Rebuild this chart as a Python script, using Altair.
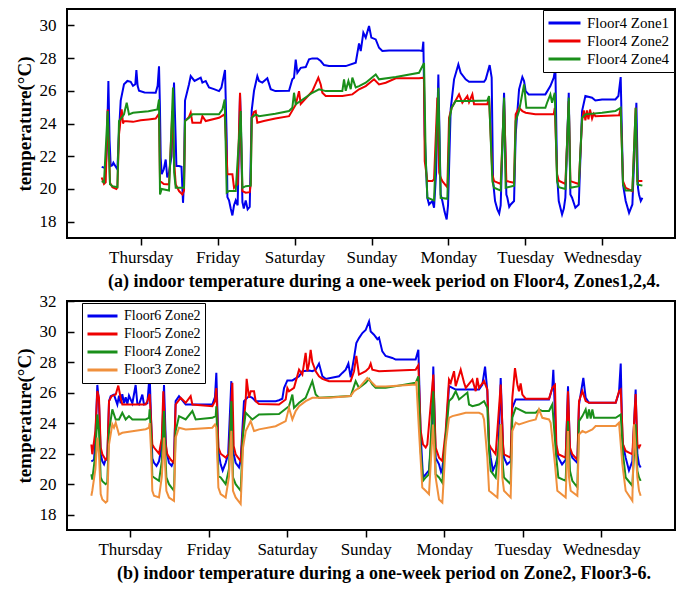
import json
import altair as alt
import pandas as pd

days = ["Thursday", "Friday", "Saturday", "Sunday", "Monday", "Tuesday", "Wednesday"]
day_ticks = [0, 1, 2, 3, 4, 5, 6]

title_a = "(a) indoor temperature during a one-week period on Floor4, Zones1,2,4."
title_b = "(b) indoor temperature during a one-week period on Zone2, Floor3-6."

a_names = ["Floor4 Zone1", "Floor4 Zone2", "Floor4 Zone4"]
a_colors = ["#0000ee", "#ee0000", "#1a8f1a"]
b_names = ["Floor6 Zone2", "Floor5 Zone2", "Floor4 Zone2", "Floor3 Zone2"]
b_colors = ["#0000ee", "#ee0000", "#1a8f1a", "#f0903c"]

# ---- panel (a): (day, temperature) readings ----
a_zone1 = [(-0.507,21.35),(-0.477,21.3),(-0.455,21.25),(-0.44,22.5),(-0.42,26.6),(-0.405,23.0),(-0.39,21.4),(-0.368,21.45),(-0.355,21.6),(-0.33,21.4),(-0.303,21.2),(-0.282,23.5),(-0.26,25.4),(-0.217,26.4),(-0.173,26.6),(-0.13,26.55),(-0.1,26.3),(-0.07,26.4),(-0.056,27.27),(-0.04,26.3),(-0.022,26.0),(0.05,25.9),(0.195,25.88),(0.22,26.3),(0.238,27.5),(0.25,25.0),(0.26,21.9),(0.273,20.9),(0.3,21.2),(0.325,21.8),(0.345,20.7),(0.368,21.0),(0.4,22.0),(0.433,26.5),(0.455,23.0),(0.464,21.4),(0.498,21.4),(0.53,21.35),(0.55,19.15),(0.563,20.5),(0.576,25.4),(0.628,26.4),(0.65,26.9),(0.7,26.6),(0.78,26.8),(0.802,26.5),(0.845,26.6),(0.888,26.2),(0.953,26.1),(1.018,25.98),(1.049,26.19),(1.096,27.27),(1.118,23.0),(1.127,19.5),(1.148,19.3),(1.17,18.8),(1.192,18.38),(1.213,19.0),(1.235,19.3),(1.26,19.0),(1.291,25.8),(1.3,24.5),(1.322,19.2),(1.34,18.8),(1.365,19.3),(1.39,18.75),(1.417,18.9),(1.443,24.8),(1.473,26.0),(1.516,26.9),(1.538,26.6),(1.581,26.5),(1.646,26.76),(1.69,26.1),(1.75,25.98),(1.928,26.0),(1.971,26.7),(1.993,26.8),(2.015,27.9),(2.036,27.1),(2.08,27.4),(2.145,27.45),(2.188,27.92),(2.231,27.98),(2.296,27.98),(2.34,27.82),(2.383,27.57),(2.448,27.51),(2.665,27.51),(2.795,27.72),(2.838,28.9),(2.86,28.43),(2.894,29.55),(2.925,29.25),(2.968,29.96),(2.998,29.25),(3.055,29.14),(3.098,28.63),(3.141,28.43),(3.228,28.47),(3.618,28.47),(3.661,28.43),(3.674,29.0),(3.692,23.3),(3.726,19.46),(3.748,19.05),(3.791,19.26),(3.813,18.85),(3.84,21.0),(3.869,27.0),(3.899,19.66),(3.921,19.26),(3.95,18.6),(3.977,18.13),(3.995,19.0),(4.029,24.86),(4.073,26.7),(4.129,27.61),(4.159,27.1),(4.224,26.7),(4.268,26.55),(4.463,26.55),(4.485,26.7),(4.536,27.57),(4.562,26.8),(4.58,20.48),(4.606,19.26),(4.636,18.75),(4.66,18.5),(4.679,19.0),(4.723,25.88),(4.753,19.66),(4.766,19.46),(4.79,18.9),(4.81,19.05),(4.853,19.26),(4.874,23.33),(4.918,26.09),(4.961,26.84),(4.983,26.6),(5.004,25.98),(5.043,25.78),(5.26,25.78),(5.325,26.29),(5.369,26.8),(5.39,27.41),(5.412,20.89),(5.434,19.26),(5.477,18.44),(5.5,18.8),(5.52,19.46),(5.564,25.88),(5.585,19.66),(5.607,19.46),(5.65,18.85),(5.694,19.05),(5.737,24.76),(5.78,25.68),(5.867,25.58),(5.91,25.41),(5.997,25.47),(6.17,25.47),(6.209,25.68),(6.239,26.84),(6.269,20.28),(6.304,19.26),(6.348,18.54),(6.391,19.05),(6.443,25.27),(6.464,20.07),(6.477,19.66),(6.5,19.26),(6.521,19.46)]

a_zone2 = [(-0.507,20.7),(-0.477,20.3),(-0.455,20.4),(-0.429,24.86),(-0.399,20.38),(-0.368,20.1),(-0.316,20.0),(-0.303,20.1),(-0.282,23.33),(-0.247,24.86),(-0.23,24.0),(-0.217,24.15),(-0.1,24.1),(0.0,24.2),(0.1,24.25),(0.195,24.3),(0.217,24.45),(0.238,24.6),(0.251,20.48),(0.3,20.3),(0.368,20.28),(0.412,24.76),(0.43,22.0),(0.455,20.28),(0.498,19.87),(0.542,19.66),(0.563,19.9),(0.576,24.15),(0.628,24.4),(0.65,24.66),(0.672,24.05),(0.78,24.05),(0.802,24.45),(0.845,24.15),(1.018,24.35),(1.092,24.56),(1.118,22.0),(1.127,20.89),(1.192,20.89),(1.213,20.07),(1.26,20.3),(1.291,25.88),(1.31,22.0),(1.322,19.87),(1.365,19.77),(1.417,19.8),(1.43,20.3),(1.443,24.35),(1.473,24.7),(1.495,24.76),(1.516,24.05),(1.6,24.15),(1.75,24.3),(1.928,24.45),(2.015,25.15),(2.058,25.98),(2.08,25.2),(2.231,25.98),(2.309,26.8),(2.34,26.39),(2.361,25.88),(2.405,25.68),(2.621,25.68),(2.751,25.78),(2.838,26.09),(2.925,26.29),(3.033,26.7),(3.098,26.39),(3.185,26.49),(3.315,26.76),(3.618,26.76),(3.683,26.8),(3.692,21.7),(3.726,20.48),(3.791,20.48),(3.813,20.6),(3.856,25.58),(3.88,21.0),(3.899,20.68),(3.921,20.48),(3.986,20.1),(4.008,24.35),(4.042,24.96),(4.138,25.78),(4.181,25.27),(4.246,25.68),(4.268,25.3),(4.311,25.78),(4.333,25.17),(4.506,25.17),(4.528,25.58),(4.571,20.89),(4.593,20.48),(4.679,20.3),(4.723,25.37),(4.753,20.48),(4.853,20.38),(4.874,24.56),(4.918,24.96),(4.961,24.76),(5.004,24.66),(5.13,24.56),(5.369,24.56),(5.382,24.96),(5.412,20.89),(5.434,20.5),(5.52,20.3),(5.564,25.37),(5.585,20.48),(5.694,20.3),(5.737,24.15),(5.76,24.8),(5.78,24.2),(5.8,24.8),(5.82,24.25),(5.84,24.85),(5.867,24.3),(5.889,24.6),(5.91,24.45),(6.218,24.5),(6.239,24.9),(6.269,20.48),(6.304,20.07),(6.391,19.87),(6.434,24.96),(6.456,20.48),(6.521,20.48)]

a_zone4 = [(-0.507,20.48),(-0.477,20.4),(-0.429,24.76),(-0.399,20.28),(-0.368,20.17),(-0.303,20.1),(-0.282,24.15),(-0.217,24.56),(-0.182,25.27),(-0.152,24.56),(-0.1,24.66),(0.1,24.75),(0.217,24.86),(0.238,25.47),(0.251,19.66),(0.273,20.0),(0.368,19.9),(0.42,26.2),(0.435,21.0),(0.455,20.07),(0.563,20.07),(0.576,24.15),(0.628,24.35),(0.672,24.56),(1.018,24.56),(1.062,24.86),(1.092,25.47),(1.118,19.77),(1.148,19.87),(1.235,19.87),(1.3,24.76),(1.322,20.07),(1.365,20.17),(1.43,20.2),(1.443,24.35),(1.495,24.56),(1.538,24.45),(1.75,24.6),(1.928,24.76),(1.971,24.96),(1.993,25.88),(2.015,25.17),(2.231,25.88),(2.318,26.09),(2.405,25.98),(2.621,25.98),(2.643,26.7),(2.665,26.0),(2.7,26.6),(2.73,26.1),(2.751,26.8),(2.795,26.2),(2.838,26.29),(2.925,26.49),(3.055,27.0),(3.098,26.7),(3.315,26.84),(3.618,27.1),(3.683,27.7),(3.704,22.0),(3.726,19.46),(3.813,19.3),(3.869,26.19),(3.899,19.46),(3.986,19.4),(4.016,24.35),(4.042,24.96),(4.094,25.37),(4.268,25.37),(4.506,25.41),(4.528,25.68),(4.571,20.48),(4.593,20.07),(4.679,19.9),(4.723,25.58),(4.744,20.07),(4.853,20.2),(4.874,24.15),(4.918,24.76),(4.983,26.39),(5.013,24.96),(5.26,24.96),(5.282,25.27),(5.325,25.78),(5.347,25.27),(5.382,25.88),(5.412,20.48),(5.434,20.1),(5.52,20.0),(5.564,25.58),(5.585,20.07),(5.694,20.17),(5.737,24.35),(5.78,24.56),(5.997,24.66),(6.17,24.76),(6.239,24.96),(6.269,20.28),(6.304,19.9),(6.391,19.9),(6.434,24.96),(6.456,20.28),(6.521,20.2)]

# ---- panel (b): (day, temperature) readings ----
b_f6 = [(-0.492,21.5),(-0.458,21.6),(-0.44,23.0),(-0.416,26.5),(-0.395,25.4),(-0.373,21.96),(-0.352,21.5),(-0.33,21.3),(-0.31,21.6),(-0.289,21.6),(-0.267,25.44),(-0.246,25.77),(-0.204,25.87),(-0.161,25.22),(-0.14,25.8),(-0.119,25.3),(-0.098,25.9),(-0.076,25.3),(-0.055,25.7),(-0.034,25.25),(-0.013,25.8),(0.03,25.3),(0.072,26.5),(0.093,25.3),(0.115,25.22),(0.157,25.87),(0.178,25.22),(0.221,25.3),(0.25,27.2),(0.27,24.0),(0.284,21.7),(0.306,21.4),(0.337,21.2),(0.369,21.5),(0.405,22.5),(0.433,26.5),(0.454,23.0),(0.463,22.18),(0.496,21.4),(0.53,21.2),(0.56,21.6),(0.581,25.44),(0.624,25.77),(0.709,25.22),(1.048,25.22),(1.082,25.7),(1.099,27.3),(1.115,24.5),(1.125,22.18),(1.154,21.3),(1.18,20.9),(1.218,21.4),(1.25,22.0),(1.29,26.75),(1.311,22.18),(1.345,21.4),(1.388,21.1),(1.409,21.6),(1.451,25.44),(1.515,25.77),(1.557,25.66),(1.6,25.44),(1.854,25.44),(1.897,25.5),(1.939,25.6),(1.961,26.3),(2.003,26.8),(2.067,26.8),(2.152,27.07),(2.194,27.4),(2.279,27.45),(2.321,27.4),(2.364,27.5),(2.406,27.9),(2.449,27.07),(2.491,26.9),(2.661,27.07),(2.703,27.29),(2.746,27.5),(2.78,27.9),(2.809,27.0),(2.852,28.27),(2.881,29.25),(2.915,29.57),(2.958,29.9),(3.0,30.1),(3.043,30.66),(3.064,30.0),(3.106,29.79),(3.149,29.5),(3.17,29.6),(3.212,28.7),(3.254,28.4),(3.339,28.27),(3.382,28.16),(3.636,28.16),(3.671,28.8),(3.7,23.26),(3.73,20.44),(3.764,20.65),(3.806,20.9),(3.84,23.0),(3.861,27.7),(3.891,21.74),(3.934,21.3),(3.96,20.8),(3.976,21.0),(4.019,23.05),(4.061,26.42),(4.104,26.31),(4.146,26.2),(4.443,26.2),(4.486,26.53),(4.52,27.7),(4.549,26.09),(4.571,22.61),(4.592,21.74),(4.62,20.9),(4.655,21.3),(4.69,22.0),(4.719,26.96),(4.749,22.4),(4.761,21.74),(4.8,21.3),(4.846,21.5),(4.867,25.0),(4.91,25.55),(5.334,25.55),(5.376,26.3),(5.389,27.5),(5.427,22.4),(5.453,21.74),(5.5,21.3),(5.546,21.6),(5.576,26.42),(5.601,22.18),(5.631,21.74),(5.695,21.4),(5.716,25.22),(5.771,26.96),(5.801,25.66),(5.843,25.33),(6.183,25.33),(6.225,26.0),(6.247,27.9),(6.268,23.0),(6.276,22.61),(6.31,21.74),(6.352,20.9),(6.395,21.5),(6.437,26.2),(6.459,21.96),(6.48,21.3),(6.501,21.1)]

b_f5 = [(-0.492,22.6),(-0.48,21.96),(-0.44,23.5),(-0.416,26.1),(-0.395,25.66),(-0.373,22.4),(-0.352,21.96),(-0.31,21.6),(-0.289,21.74),(-0.267,25.44),(-0.233,25.77),(-0.182,25.87),(-0.149,26.46),(-0.119,25.66),(-0.098,25.22),(0.199,25.22),(0.221,25.44),(0.25,25.9),(0.27,24.0),(0.284,22.61),(0.306,22.4),(0.369,22.0),(0.405,23.0),(0.424,26.09),(0.454,22.61),(0.475,21.96),(0.52,21.6),(0.56,21.4),(0.581,25.22),(0.645,25.66),(0.709,25.33),(0.772,25.77),(0.794,25.22),(1.048,25.11),(1.082,25.44),(1.099,26.3),(1.125,22.4),(1.154,22.0),(1.218,21.74),(1.26,22.0),(1.303,26.64),(1.32,22.5),(1.345,21.96),(1.409,21.5),(1.439,23.5),(1.473,25.5),(1.485,26.9),(1.515,25.66),(1.536,26.09),(1.579,26.09),(1.6,25.44),(1.642,25.26),(1.897,25.22),(1.982,25.55),(2.003,26.3),(2.024,26.09),(2.088,26.31),(2.152,27.5),(2.194,27.18),(2.236,28.6),(2.258,27.4),(2.279,27.9),(2.3,28.8),(2.321,28.0),(2.364,27.4),(2.406,27.07),(2.449,26.9),(2.533,26.75),(2.809,26.75),(2.852,27.4),(2.881,28.4),(2.915,27.18),(2.958,27.29),(3.0,27.4),(3.043,27.62),(3.064,27.9),(3.085,27.5),(3.17,27.4),(3.636,27.5),(3.671,27.8),(3.7,23.5),(3.73,22.61),(3.764,22.4),(3.785,22.61),(3.861,27.18),(3.891,22.4),(3.934,21.74),(3.976,21.52),(4.019,23.5),(4.061,26.85),(4.083,26.64),(4.125,27.4),(4.146,26.42),(4.21,27.5),(4.253,26.64),(4.274,26.31),(4.359,26.85),(4.401,26.09),(4.42,26.96),(4.443,26.31),(4.507,26.75),(4.549,26.2),(4.571,22.61),(4.592,22.4),(4.655,21.96),(4.719,26.53),(4.749,22.61),(4.761,21.96),(4.846,21.74),(4.867,25.66),(4.901,27.6),(4.931,26.53),(4.952,26.09),(4.973,26.6),(4.995,25.87),(5.037,25.6),(5.334,25.6),(5.376,26.31),(5.41,26.5),(5.427,22.61),(5.453,21.96),(5.546,21.74),(5.576,26.09),(5.601,22.4),(5.631,21.96),(5.695,21.6),(5.716,25.44),(5.759,26.09),(5.801,25.44),(5.843,25.33),(6.183,25.33),(6.225,26.09),(6.247,26.2),(6.276,22.61),(6.31,22.18),(6.395,21.96),(6.437,25.9),(6.459,22.61),(6.48,22.4),(6.501,22.61)]

b_f4 = [(-0.492,20.65),(-0.48,20.3),(-0.44,22.0),(-0.416,24.57),(-0.395,23.48),(-0.373,20.44),(-0.352,20.2),(-0.31,20.0),(-0.289,20.1),(-0.267,23.48),(-0.225,24.9),(-0.182,24.24),(-0.14,24.24),(-0.098,24.68),(-0.055,24.24),(-0.013,24.46),(0.03,24.24),(0.199,24.24),(0.242,24.35),(0.25,24.9),(0.27,23.0),(0.284,20.54),(0.306,20.44),(0.369,20.22),(0.405,21.5),(0.433,24.8),(0.454,21.5),(0.463,20.44),(0.496,20.0),(0.56,19.57),(0.581,23.48),(0.624,24.46),(0.709,24.24),(0.794,24.79),(0.836,24.24),(1.048,24.35),(1.091,24.46),(1.099,25.1),(1.125,20.54),(1.154,20.44),(1.218,20.0),(1.26,21.0),(1.29,25.44),(1.311,20.44),(1.345,20.0),(1.409,19.57),(1.439,23.26),(1.473,24.68),(1.515,24.46),(1.557,24.24),(1.642,24.57),(1.897,24.6),(2.024,25.11),(2.067,25.87),(2.088,25.0),(2.152,25.33),(2.236,25.66),(2.321,26.75),(2.364,25.87),(2.406,25.66),(2.533,25.7),(2.809,25.77),(2.83,26.09),(2.852,26.42),(2.873,26.75),(2.915,26.31),(3.0,26.64),(3.043,26.9),(3.085,26.53),(3.127,26.31),(3.254,26.31),(3.636,26.64),(3.671,27.07),(3.7,22.18),(3.73,20.22),(3.764,20.44),(3.806,20.65),(3.861,26.09),(3.891,20.65),(3.934,20.44),(3.976,20.1),(4.019,23.05),(4.061,25.44),(4.104,25.66),(4.146,26.09),(4.189,25.55),(4.295,26.0),(4.316,25.22),(4.359,25.11),(4.443,25.22),(4.507,25.44),(4.549,25.0),(4.571,22.18),(4.592,20.87),(4.655,20.44),(4.719,23.92),(4.749,21.09),(4.761,20.44),(4.846,20.0),(4.867,24.35),(4.91,25.0),(4.952,24.9),(5.037,24.68),(5.165,24.68),(5.207,24.9),(5.249,24.79),(5.334,24.79),(5.376,25.22),(5.427,21.74),(5.453,20.44),(5.546,20.22),(5.576,24.13),(5.601,20.87),(5.631,20.22),(5.695,19.8),(5.716,24.13),(5.759,24.46),(5.801,24.9),(5.822,24.3),(5.843,24.9),(5.865,24.3),(5.886,24.9),(5.907,24.35),(6.183,24.35),(6.247,24.57),(6.276,21.96),(6.31,20.44),(6.395,19.9),(6.437,23.92),(6.459,20.87),(6.48,20.44),(6.501,20.22)]

b_f3 = [(-0.492,19.24),(-0.48,19.57),(-0.44,21.0),(-0.416,23.05),(-0.395,22.0),(-0.373,19.35),(-0.352,19.0),(-0.31,18.8),(-0.289,18.9),(-0.267,22.61),(-0.225,23.92),(-0.204,23.7),(-0.182,24.03),(-0.14,23.26),(-0.098,23.37),(0.199,23.6),(0.242,23.7),(0.25,24.0),(0.27,22.0),(0.284,19.57),(0.306,19.24),(0.369,19.13),(0.405,20.5),(0.433,23.05),(0.454,20.5),(0.463,19.57),(0.496,19.13),(0.56,18.91),(0.581,23.05),(0.624,23.7),(0.709,23.59),(1.048,23.7),(1.082,23.92),(1.099,23.7),(1.125,19.78),(1.154,19.35),(1.218,19.13),(1.26,20.5),(1.29,23.5),(1.311,19.57),(1.345,19.13),(1.409,18.7),(1.439,22.4),(1.473,23.48),(1.536,24.13),(1.579,23.48),(1.642,23.59),(1.854,23.8),(1.982,24.13),(2.024,25.0),(2.067,24.24),(2.109,24.79),(2.152,25.11),(2.236,25.44),(2.321,25.66),(2.533,25.66),(2.809,25.77),(2.852,26.09),(2.915,26.31),(3.021,26.96),(3.064,26.75),(3.127,26.42),(3.254,26.4),(3.636,26.53),(3.645,26.75),(3.679,23.48),(3.721,19.78),(3.764,19.57),(3.806,19.35),(3.857,23.9),(3.891,20.44),(3.934,19.0),(3.976,18.8),(4.019,22.61),(4.061,24.35),(4.104,24.46),(4.189,24.57),(4.274,24.68),(4.443,24.68),(4.486,24.57),(4.507,24.24),(4.549,21.74),(4.571,19.57),(4.677,19.13),(4.719,23.92),(4.74,20.44),(4.761,19.57),(4.846,19.13),(4.867,23.48),(4.91,24.03),(4.952,23.92),(5.08,24.13),(5.165,24.24),(5.207,24.9),(5.249,24.35),(5.334,24.24),(5.355,24.03),(5.41,21.31),(5.44,19.57),(5.546,19.13),(5.576,23.48),(5.589,20.44),(5.61,19.57),(5.695,19.24),(5.716,23.26),(5.759,23.48),(5.801,23.37),(5.886,23.59),(5.928,23.81),(6.183,23.81),(6.225,24.03),(6.268,21.31),(6.31,19.57),(6.395,18.91),(6.416,23.92),(6.459,20.44),(6.48,19.57),(6.501,19.24)]


def frame(names, series):
    rows = []
    for order, (name, pts) in enumerate(zip(names, series)):
        for i, (d, t) in enumerate(pts):
            rows.append({"day": d, "temp": t, "series": name, "order": order, "i": i})
    return pd.DataFrame(rows)


df_a = frame(a_names, [a_zone1, a_zone2, a_zone4])
df_b = frame(b_names, [b_f6, b_f5, b_f4, b_f3])

FONT = "Liberation Serif, Times New Roman, serif"
label_expr = json.dumps(days) + "[datum.value]"


def panel(df, names, colors, xdom, ydom, yticks, title, lx, ly, sym, lfs):
    x_axis = alt.Axis(values=day_ticks, labelExpr=label_expr, title=None, grid=False,
                      domain=False, tickSize=7, tickWidth=1.5, tickColor="black",
                      labelPadding=4, labelFontSize=17, labelFont=FONT, labelColor="black")
    y_axis = alt.Axis(values=yticks, title="temperature(°C)", grid=False, domain=False,
                      tickSize=7, tickWidth=1.5, tickColor="black", offset=-7,
                      labelPadding=11, labelFontSize=17, labelFont=FONT, labelColor="black",
                      titleFont=FONT, titleFontSize=19, titleFontWeight="bold",
                      titleColor="black", titlePadding=5)
    legend = alt.Legend(orient="none", legendX=lx, legendY=ly, title=None,
                        strokeColor="black", fillColor="white", padding=4,
                        symbolType="stroke", symbolSize=sym, symbolStrokeWidth=3,
                        clipHeight=18, rowPadding=0, labelOffset=5,
                        labelFont=FONT, labelFontSize=lfs,
                        labelColor="black", cornerRadius=0)
    return alt.Chart(df).mark_line(strokeWidth=2).encode(
        x=alt.X("day:Q", scale=alt.Scale(domain=xdom, nice=False, zero=False), axis=x_axis),
        y=alt.Y("temp:Q", scale=alt.Scale(domain=ydom, nice=False, zero=False), axis=y_axis),
        color=alt.Color("series:N", scale=alt.Scale(domain=names, range=colors),
                        sort=names, legend=legend),
        order=alt.Order("i:Q"),
        detail="series:N",
    ).properties(
        width=608, height=229,
        title=alt.TitleParams(title, orient="bottom", font=FONT, fontSize=18,
                              fontWeight="bold", color="black", dx=13, offset=8),
    )


pa = panel(df_a, a_names, a_colors, [-0.958, 6.945], [17, 31],
           [18, 20, 22, 24, 26, 28, 30], title_a, 476, 1, 1024, 15)
pb = panel(df_b, b_names, b_colors, [-0.802, 6.938], [17, 32],
           [18, 20, 22, 24, 26, 28, 30, 32], title_b, 15, 2, 900, 14)

chart = alt.vconcat(pa, pb, spacing=63, bounds="flush").resolve_scale(
    color="independent").properties(
    padding={"left": 6, "top": 0, "right": 0, "bottom": 0}
).configure(background="white").configure_view(stroke="black", strokeWidth=2)

chart.save("out.html", embed_options={"renderer": "svg", "actions": False})
